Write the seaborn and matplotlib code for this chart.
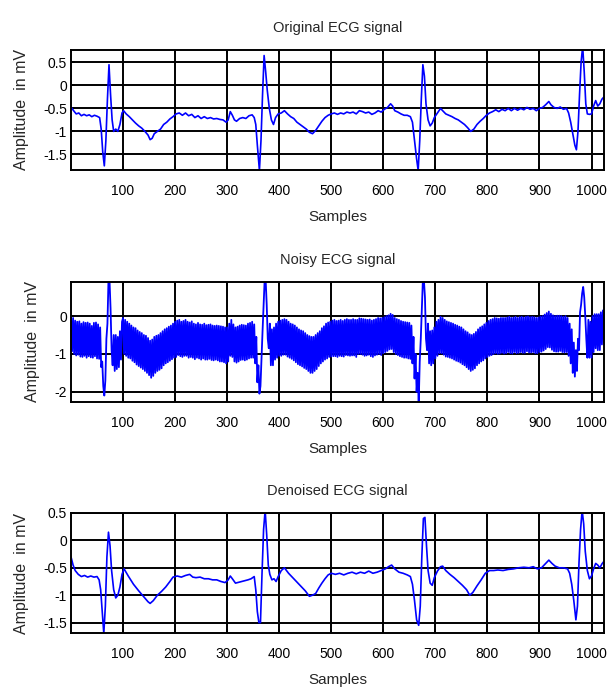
import matplotlib
matplotlib.use("Agg")
import matplotlib.pyplot as plt
import seaborn as sns

# --- data (sample index, amplitude in mV) ---
orig_x = [0, 5, 10, 15, 20, 25, 30, 35, 40, 45, 50, 55, 58, 61, 64, 67, 70, 73, 76, 79,
          82, 86, 90, 94, 98, 101, 106, 112, 118, 124, 130, 136, 142, 148, 152, 156, 160,
          166, 172, 178, 184, 190, 196, 202, 208, 214, 220, 226, 232, 238, 244, 250, 256,
          262, 268, 274, 280, 286, 292, 298, 302, 306, 310, 314, 318, 324, 330, 336, 342,
          348, 352, 355, 358, 362, 365, 368, 371, 374, 377, 381, 385, 389, 393, 398, 404,
          410, 416, 422, 428, 434, 440, 446, 452, 458, 464, 470, 476, 482, 488, 494, 500,
          506, 512, 518, 524, 530, 536, 542, 548, 554, 560, 566, 572, 578, 584, 590, 596,
          602, 608, 614, 618, 622, 628, 634, 640, 646, 652, 656, 660, 664, 667, 670, 673,
          676, 679, 682, 686, 690, 694, 698, 704, 710, 714, 720, 726, 732, 738, 744, 750,
          756, 762, 768, 774, 780, 786, 792, 798, 804, 810, 816, 822, 828, 834, 840, 846,
          852, 858, 864, 870, 876, 882, 888, 894, 900, 906, 912, 918, 922, 928, 934, 940,
          946, 952, 956, 960, 964, 968, 971, 974, 977, 980, 983, 986, 989, 992, 996, 1000,
          1004, 1008, 1012, 1016, 1020, 1024]
orig_y = [-0.47, -0.55, -0.62, -0.60, -0.66, -0.63, -0.66, -0.64, -0.68, -0.65, -0.67,
          -0.70, -0.95, -1.45, -1.75, -1.2, -0.3, 0.45, -0.2, -0.75, -1.0, -0.95, -1.0,
          -0.85, -0.6, -0.55, -0.62, -0.68, -0.75, -0.82, -0.88, -0.93, -1.0, -1.08, -1.18,
          -1.15, -1.05, -1.0, -0.95, -0.85, -0.8, -0.73, -0.68, -0.62, -0.6, -0.65, -0.6,
          -0.66, -0.63, -0.7, -0.66, -0.72, -0.68, -0.72, -0.7, -0.73, -0.72, -0.74, -0.75,
          -0.8, -0.75, -0.57, -0.65, -0.75, -0.78, -0.72, -0.7, -0.72, -0.66, -0.64, -0.7,
          -0.85, -1.3, -1.85, -1.2, -0.2, 0.65, 0.3, -0.1, -0.5, -0.75, -0.85, -0.7, -0.62,
          -0.6, -0.55, -0.62, -0.68, -0.72, -0.8, -0.85, -0.9, -0.95, -1.02, -1.05, -0.98,
          -0.88, -0.78, -0.7, -0.65, -0.62, -0.6, -0.63, -0.6, -0.62, -0.58, -0.6, -0.58,
          -0.62, -0.55, -0.57, -0.6, -0.58, -0.63, -0.6, -0.55, -0.58, -0.52, -0.48, -0.4,
          -0.45, -0.55, -0.58, -0.62, -0.65, -0.65, -0.68, -0.8, -1.2, -1.6, -1.85, -1.2,
          -0.3, 0.45, 0.2, -0.4, -0.75, -0.88, -0.82, -0.7, -0.6, -0.5, -0.55, -0.62, -0.65,
          -0.68, -0.72, -0.75, -0.8, -0.85, -0.92, -1.0, -0.95, -0.85, -0.78, -0.72, -0.65,
          -0.6, -0.57, -0.53, -0.57, -0.52, -0.55, -0.5, -0.55, -0.5, -0.54, -0.5, -0.53,
          -0.48, -0.52, -0.5, -0.55, -0.5, -0.48, -0.42, -0.35, -0.42, -0.48, -0.5, -0.47,
          -0.52, -0.5, -0.6, -0.8, -1.05, -1.3, -1.4, -1.0, -0.2, 0.5, 0.85, 0.3, -0.4,
          -0.62, -0.63, -0.62, -0.45, -0.33, -0.45, -0.4, -0.3, -0.25]

# noisy trace, one value every 2 samples (0, 2, 4, ... 1024)
noisy_x = list(range(0, 1025, 2))
noisy_y = [
    0.0, -0.93, -0.05, -1.0, -0.12, -1.04, -0.15, -1.02, -0.14, -1.07,
    -0.2, -1.08, -0.16, -1.05, -0.18, -1.1, -0.17, -1.06, -0.2, -1.09,
    -0.26, -1.1, -0.18, -1.06, -0.17, -1.12, -0.22, -1.13, -0.3, -1.35,
    -1.2, -1.85, -2.1, -1.7, -0.6, -0.2, 0.95, 0.95, 0.2, -0.9,
    -1.3, -0.5, -1.45, -0.5, -1.4, -0.55, -1.35, -0.4, -1.15, -0.15,
    -0.05, -1.0, -0.1, -1.05, -0.15, -1.1, -0.2, -1.12, -0.25, -1.18,
    -0.3, -1.22, -0.32, -1.28, -0.38, -1.32, -0.42, -1.36, -0.45, -1.4,
    -0.5, -1.45, -0.52, -1.5, -0.58, -1.56, -0.65, -1.63, -0.62, -1.58,
    -0.55, -1.5, -0.52, -1.45, -0.5, -1.42, -0.45, -1.38, -0.4, -1.3,
    -0.35, -1.25, -0.32, -1.22, -0.28, -1.18, -0.25, -1.14, -0.2, -1.1,
    -0.15, -1.08, -0.12, -1.03, -0.1, -1.06, -0.15, -1.08, -0.13, -1.05,
    -0.1, -1.05, -0.15, -1.1, -0.17, -1.08, -0.14, -1.1, -0.2, -1.14,
    -0.22, -1.1, -0.18, -1.12, -0.22, -1.15, -0.23, -1.12, -0.2, -1.15,
    -0.24, -1.15, -0.23, -1.13, -0.22, -1.16, -0.25, -1.17, -0.26, -1.15,
    -0.25, -1.17, -0.26, -1.2, -0.27, -1.2, -0.28, -1.22, -0.3, -1.25,
    -0.3, -1.2, -0.2, -1.05, -0.1, -1.08, -0.22, -1.2, -0.3, -1.23,
    -0.28, -1.2, -0.25, -1.16, -0.23, -1.15, -0.24, -1.17, -0.25, -1.15,
    -0.2, -1.12, -0.18, -1.1, -0.15, -1.1, -0.22, -1.25, -0.55, -1.75,
    -1.3, -2.05, -1.85, -1.1, -0.4, 0.3, 0.95, 0.95, 0.3, -0.6,
    -0.85, -0.2, -1.3, -0.35, -1.3, -0.3, -1.15, -0.2, -1.1, -0.15,
    -1.05, -0.12, -1.05, -0.1, -1.02, -0.08, -1.02, -0.1, -1.07, -0.15,
    -1.1, -0.2, -1.13, -0.22, -1.17, -0.25, -1.22, -0.3, -1.27, -0.35,
    -1.3, -0.38, -1.33, -0.4, -1.37, -0.45, -1.4, -0.5, -1.45, -0.53,
    -1.5, -0.55, -1.5, -0.55, -1.45, -0.5, -1.4, -0.45, -1.32, -0.4,
    -1.25, -0.32, -1.2, -0.27, -1.15, -0.2, -1.12, -0.17, -1.08, -0.15,
    -1.07, -0.12, -1.06, -0.1, -1.06, -0.13, -1.08, -0.12, -1.05, -0.1,
    -1.06, -0.13, -1.07, -0.1, -1.03, -0.08, -1.04, -0.1, -1.05, -0.1,
    -1.04, -0.08, -1.04, -0.1, -1.08, -0.1, -1.0, -0.06, -1.0, -0.07,
    -1.02, -0.08, -1.05, -0.09, -1.04, -0.1, -1.02, -0.09, -1.06, -0.12,
    -1.08, -0.1, -1.04, -0.08, -1.02, -0.05, -1.0, -0.06, -1.03, -0.05,
    -0.98, -0.03, -0.95, 0.0, -0.92, 0.02, -0.88, 0.06, -0.87, 0.03,
    -0.95, -0.05, -1.0, -0.08, -1.03, -0.1, -1.06, -0.13, -1.08, -0.15,
    -1.1, -0.16, -1.1, -0.17, -1.12, -0.18, -1.13, -0.25, -1.25, -0.55,
    -1.65, -1.0, -2.0, -1.5, -2.3, -1.2, -0.6, 0.2, 0.95, 0.95,
    0.5, -0.6, -0.9, -0.2, -1.25, -0.4, -1.3, -0.38, -1.25, -0.3,
    -1.12, -0.15, -1.05, -0.1, -0.98, -0.02, -0.98, -0.05, -1.02, -0.1,
    -1.07, -0.14, -1.08, -0.16, -1.1, -0.18, -1.12, -0.2, -1.15, -0.23,
    -1.18, -0.25, -1.2, -0.28, -1.23, -0.3, -1.27, -0.35, -1.3, -0.4,
    -1.35, -0.43, -1.4, -0.48, -1.45, -0.5, -1.42, -0.47, -1.38, -0.42,
    -1.3, -0.35, -1.25, -0.3, -1.2, -0.27, -1.17, -0.22, -1.12, -0.18,
    -1.08, -0.13, -1.05, -0.1, -1.03, -0.08, -1.0, -0.05, -0.98, -0.06,
    -1.0, -0.07, -0.99, -0.05, -0.97, -0.05, -0.99, -0.05, -0.98, -0.04,
    -0.95, -0.02, -0.98, -0.05, -0.99, -0.04, -0.95, -0.02, -0.98, -0.05,
    -0.97, -0.03, -0.95, -0.02, -0.97, -0.04, -0.97, -0.02, -0.93, -0.01,
    -0.96, -0.03, -0.96, -0.02, -0.95, -0.03, -0.98, -0.05, -0.98, -0.04,
    -0.95, -0.01, -0.94, 0.0, -0.91, 0.04, -0.87, 0.08, -0.82, 0.12,
    -0.83, 0.06, -0.89, 0.02, -0.93, 0.0, -0.94, 0.01, -0.94, 0.01,
    -0.92, 0.0, -0.95, -0.02, -0.96, 0.0, -0.95, -0.05, -1.05, -0.2,
    -1.25, -0.35, -1.5, -0.7, -1.6, -0.9, -1.45, -0.6, -0.9, 0.1,
    0.3, 0.6, 0.77, 0.5, 0.0, -0.6, -1.1, -0.1, -1.1, -0.15,
    -1.1, 0.0, -0.95, 0.05, -0.85, 0.05, -0.9, 0.05, -0.9, 0.1,
    -0.75, 0.15, -0.7]

den_x = [0, 4, 8, 14, 20, 26, 32, 38, 44, 50, 54, 57, 60, 63, 66, 69, 72, 75, 78, 82,
         86, 90, 94, 98, 102, 110, 120, 130, 140, 148, 152, 158, 166, 174, 182, 190, 196,
         204, 212, 220, 228, 234, 240, 248, 256, 264, 272, 280, 288, 296, 302, 306, 310,
         316, 324, 332, 340, 346, 352, 355, 358, 361, 364, 367, 370, 373, 376, 379, 382,
         386, 390, 394, 398, 404, 410, 418, 426, 434, 442, 450, 458, 464, 470, 476, 482,
         488, 494, 500, 508, 516, 524, 532, 540, 548, 556, 564, 572, 580, 588, 596, 604,
         610, 616, 622, 630, 638, 646, 652, 656, 660, 664, 668, 671, 674, 677, 680, 683,
         686, 690, 694, 698, 704, 710, 714, 720, 728, 736, 744, 752, 760, 766, 772, 780,
         788, 796, 804, 812, 820, 830, 840, 850, 860, 870, 880, 888, 896, 904, 912, 918,
         924, 930, 938, 946, 954, 958, 962, 966, 970, 973, 976, 979, 982, 985, 988, 992,
         996, 1000, 1004, 1008, 1012, 1016, 1020, 1024]
den_y = [-0.3, -0.45, -0.55, -0.62, -0.66, -0.64, -0.67, -0.65, -0.67, -0.66, -0.72,
         -0.9, -1.3, -1.7, -1.2, -0.3, 0.15, -0.1, -0.55, -0.9, -1.05, -1.0, -0.85, -0.62,
         -0.52, -0.65, -0.8, -0.92, -1.03, -1.12, -1.15, -1.1, -1.0, -0.93, -0.85, -0.75,
         -0.67, -0.65, -0.67, -0.64, -0.62, -0.67, -0.68, -0.67, -0.7, -0.7, -0.72, -0.72,
         -0.75, -0.77, -0.72, -0.65, -0.7, -0.78, -0.76, -0.74, -0.72, -0.7, -0.66, -0.9,
         -1.3, -1.5, -1.5, -0.6, 0.2, 0.55, 0.1, -0.45, -0.62, -0.72, -0.7, -0.75, -0.66,
         -0.55, -0.5, -0.6, -0.68, -0.76, -0.84, -0.92, -1.02, -1.0, -0.97, -0.87, -0.78,
         -0.7, -0.63, -0.6, -0.62, -0.6, -0.63, -0.6, -0.58, -0.61, -0.58, -0.6, -0.56,
         -0.6, -0.58, -0.55, -0.52, -0.48, -0.45, -0.52, -0.58, -0.6, -0.63, -0.66, -0.8,
         -1.1, -1.45, -1.55, -1.2, -0.3, 0.4, 0.42, -0.1, -0.55, -0.78, -0.82, -0.68,
         -0.56, -0.48, -0.47, -0.55, -0.62, -0.68, -0.75, -0.82, -0.9, -1.0, -0.95, -0.83,
         -0.72, -0.6, -0.55, -0.55, -0.54, -0.55, -0.53, -0.52, -0.5, -0.49, -0.5, -0.48,
         -0.52, -0.5, -0.42, -0.36, -0.42, -0.47, -0.5, -0.5, -0.52, -0.6, -0.8, -1.1,
         -1.45, -1.2, -0.4, 0.2, 0.55, 0.3, -0.2, -0.55, -0.7, -0.65, -0.52, -0.42, -0.45,
         -0.5, -0.43, -0.38]

titles = ["Original ECG signal", "Noisy ECG signal", "Denoised ECG signal"]
ylims = [(-1.84, 0.77), (-2.27, 0.9), (-1.69, 0.5)]
yticks = [[-1.5, -1, -0.5, 0, 0.5], [-2, -1, 0], [-1.5, -1, -0.5, 0, 0.5]]
ytick_labels = [["-1.5", "-1", "-0.5", "0", "0.5"], ["-2", "-1", "0"],
                ["-1.5", "-1", "-0.5", "0", "0.5"]]
xticks = [100, 200, 300, 400, 500, 600, 700, 800, 900, 1000]

sns.set_style("white")
plt.rcParams['font.family'] = ['Liberation Sans', 'DejaVu Sans']

fig = plt.figure(figsize=(6.07, 6.95), dpi=100)
W, H = 607, 695
# axes boxes in pixels: (top, bottom)
boxes = [(50, 170), (282, 402), (513, 633)]
series = [(orig_x, orig_y), (noisy_x, noisy_y), (den_x, den_y)]

for i, (top, bot) in enumerate(boxes):
    ax = fig.add_axes([71 / W, 1 - bot / H, (604 - 71) / W, (bot - top) / H])
    xs, ys = series[i]
    sns.lineplot(x=xs, y=ys, ax=ax, color='#0000ff', lw=1.3 if i == 1 else 1.2,
                 estimator=None, sort=False)
    ax.set_xlim(0, 1024)
    ax.set_ylim(*ylims[i])
    ax.set_xticks(xticks)
    ax.set_xticklabels([str(t) for t in xticks], fontsize=10)
    ax.set_yticks(yticks[i])
    ax.set_yticklabels(ytick_labels[i], fontsize=10)
    ax.grid(True, color='black', lw=1.4)
    ax.set_axisbelow(True)
    for sp in ax.spines.values():
        sp.set_color('black')
        sp.set_linewidth(1.4)
    ax.tick_params(direction='in', length=3, width=1.2, top=True, right=True,
                   bottom=True, left=True, colors='black')
    ax.tick_params(axis='x', pad=10)
    ax.tick_params(axis='y', pad=3)
    ax.set_title(titles[i], fontsize=10.5, pad=13)
    ax.set_xlabel("Samples", fontsize=11, labelpad=9)
    ax.set_ylabel("Amplitude  in mV", fontsize=11.5, labelpad=10)

fig.savefig("out.png", dpi=100)
